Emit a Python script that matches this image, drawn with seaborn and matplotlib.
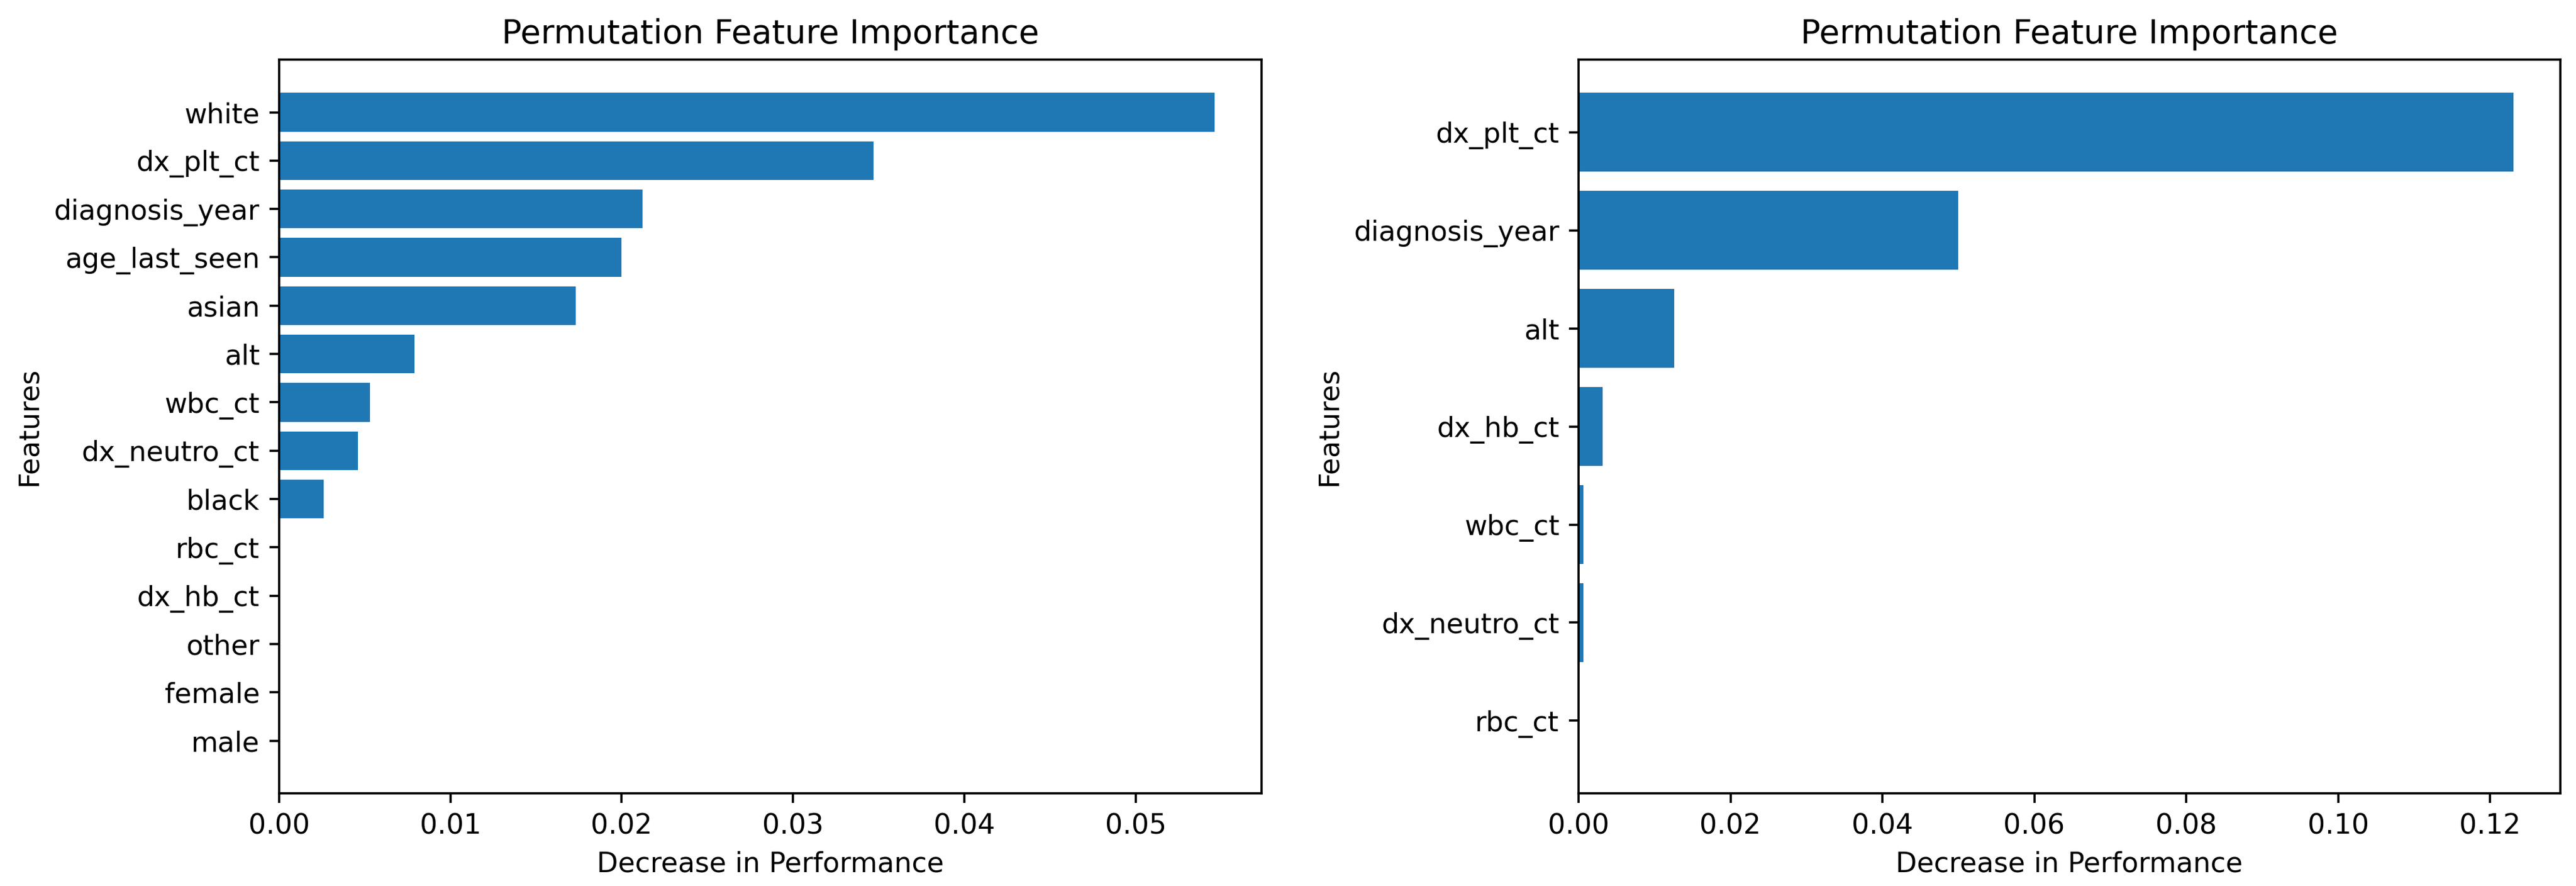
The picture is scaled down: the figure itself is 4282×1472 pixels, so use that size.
import pandas as pd
import numpy as np
import matplotlib
matplotlib.use("Agg")
import matplotlib.pyplot as plt
import seaborn as sns

# permutation importance, model 1 (top to bottom)
features_1 = ['white', 'dx_plt_ct', 'diagnosis_year', 'age_last_seen', 'asian', 'alt',
              'wbc_ct', 'dx_neutro_ct', 'black', 'rbc_ct', 'dx_hb_ct', 'other', 'female', 'male']
importance_1 = [0.0546, 0.0347, 0.0212, 0.0200, 0.0173, 0.0079,
                0.0053, 0.0046, 0.0026, 0.0, 0.0, 0.0, 0.0, 0.0]

# permutation importance, model 2 (top to bottom)
features_2 = ['dx_plt_ct', 'diagnosis_year', 'alt', 'dx_hb_ct', 'wbc_ct', 'dx_neutro_ct', 'rbc_ct']
importance_2 = [0.1231, 0.0500, 0.0126, 0.0032, 0.0006, 0.0006, 0.0]


def importance_plot(ax, features, importance):
    df = pd.DataFrame({'feature': features, 'importance': importance})
    sns.barplot(data=df, x='importance', y='feature', orient='h', ax=ax,
                color='#1f77b4', saturation=1, width=0.8, linewidth=0)
    n = len(features)
    pad = 0.4 + 0.05 * (n - 1 + 0.8)
    ax.set_ylim(n - 1 + pad, -pad)
    ax.set_xlim(0, max(importance) * 1.05)
    for side in ['top', 'right', 'bottom', 'left']:
        ax.spines[side].set_visible(True)
        ax.spines[side].set_color('black')
    ax.set_title('Permutation Feature Importance', fontsize=12)
    ax.set_xlabel('Decrease in Performance')
    ax.set_ylabel('Features')


dpi = 330
fig = plt.figure(figsize=(4282 / dpi, 1472 / dpi), dpi=dpi)
ax1 = fig.add_axes([0.1083, 0.1046, 0.4897 - 0.1083, 0.9327 - 0.1046])
ax2 = fig.add_axes([0.6128, 0.1046, 0.9939 - 0.6128, 0.9327 - 0.1046])

importance_plot(ax1, features_1, importance_1)
importance_plot(ax2, features_2, importance_2)

fig.savefig('out.png', dpi=dpi)
